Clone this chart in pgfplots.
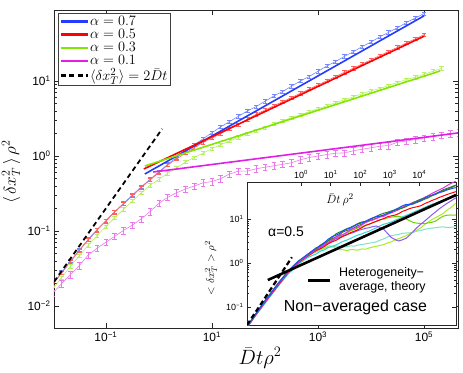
\documentclass[border=0pt]{standalone}
\usepackage{fontspec}
\setmainfont{Liberation Sans}
\usepackage{pgfplots}
\pgfplotsset{compat=1.18}
\usepackage{pgfplotstable}

\definecolor{lineB}{RGB}{35,60,255}
\definecolor{lineR}{RGB}{255,0,0}
\definecolor{lineG}{RGB}{130,230,0}
\definecolor{lineM}{RGB}{225,30,230}
\definecolor{dataB}{RGB}{115,135,255}
\definecolor{dataR}{RGB}{255,95,95}
\definecolor{dataG}{RGB}{180,240,95}
\definecolor{dataM}{RGB}{235,120,235}
% inset colours
\definecolor{insA}{RGB}{30,80,255}
\definecolor{insB}{RGB}{230,50,230}
\definecolor{insC}{RGB}{40,130,40}
\definecolor{insD}{RGB}{90,110,50}
\definecolor{insE}{RGB}{140,90,240}
\definecolor{insF}{RGB}{255,0,0}
\definecolor{insG}{RGB}{170,235,40}
\definecolor{insH}{RGB}{110,210,0}
\definecolor{insI}{RGB}{130,225,200}
\definecolor{insJ}{RGB}{50,210,210}

% main figure: x, alpha=0.7, 0.5, 0.3, 0.1
\pgfplotstableread{
x b r g m
0.01 0.0200 0.0195 0.0170 0.0148
0.01468 0.0282 0.0275 0.0240 0.0200
0.02154 0.0398 0.0389 0.0339 0.0263
0.03162 0.0562 0.0550 0.0468 0.0347
0.04642 0.0776 0.0759 0.0646 0.0479
0.06813 0.1047 0.1023 0.0871 0.0589
0.1 0.138 0.135 0.115 0.0708
0.1468 0.182 0.178 0.151 0.0851
0.2154 0.234 0.229 0.195 0.102
0.3162 0.302 0.295 0.251 0.120
0.4642 0.389 0.380 0.324 0.145
0.6813 0.490 0.479 0.407 0.182
1 0.617 0.603 0.490 0.234
1.468 0.776 0.759 0.589 0.282
2.154 0.955 0.912 0.692 0.324
3.162 1.175 1.096 0.832 0.363
4.642 1.413 1.288 0.955 0.398
6.813 1.698 1.514 1.096 0.440
10 2.042 1.738 1.259 0.457
14.68 2.455 1.995 1.413 0.500
21.54 2.884 2.291 1.585 0.575
31.62 3.388 2.630 1.778 0.630
46.42 3.981 3.090 1.995 0.630
68.13 4.571 3.606 2.188 0.676
100 5.370 4.102 2.399 0.708
146.8 6.310 4.667 2.692 0.741
215.4 7.244 5.309 2.951 0.776
316.2 8.511 6.026 3.236 0.813
464.2 10.0 6.855 3.548 0.891
681.3 11.48 7.798 3.890 0.955
1000 13.49 8.872 4.266 1.000
1468 15.85 10.09 4.677 1.047
2154 18.20 11.48 5.129 1.090
3162 21.38 13.06 5.623 1.100
4642 24.55 14.83 6.166 1.175
6813 28.84 16.87 6.761 1.230
10000 33.11 19.19 7.413 1.288
14680 38.90 21.83 7.943 1.349
21540 44.67 24.83 8.710 1.380
31620 51.29 28.18 9.550 1.530
46420 60.26 32.14 10.47 1.585
68130 69.18 36.48 11.22 1.660
100000 79.43 41.50 12.30 1.738
146800 nan nan 13.49 1.820
215400 nan nan 14.79 1.905
316200 nan nan nan 1.995
464200 nan nan nan 2.042
}\maindata

% inset: single realisations, alpha=0.5
\pgfplotstableread{
x c1 c2 c3 c4 c5 c6 c7 c8 c9 c10
0.0148 0.0355 0.0350 0.0360 0.0355 0.0350 0.0345 0.0340 0.0355 0.0345 0.0340
0.0282 0.0670 0.0650 0.0680 0.0660 0.0655 0.0640 0.0630 0.0665 0.0640 0.0625
0.0603 0.138 0.132 0.140 0.136 0.133 0.128 0.126 0.134 0.125 0.122
0.166 0.340 0.325 0.345 0.335 0.330 0.310 0.315 0.330 0.300 0.295
0.363 0.650 0.620 0.660 0.640 0.630 0.600 0.600 0.635 0.580 0.560
0.794 1.08 1.03 1.10 1.06 1.05 1.00 0.98 1.05 0.96 0.92
1.585 1.55 1.45 1.50 1.47 1.46 1.40 1.38 1.48 1.36 1.30
2.239 1.82 1.70 1.83 1.78 1.66 1.62 1.66 1.70 1.60 1.45
3.162 2.188 1.995 2.089 2.042 1.905 1.905 1.820 1.995 1.778 1.585
4.467 2.45 2.36 2.55 2.30 2.25 2.10 2.10 2.35 1.98 1.85
6.31 2.951 2.630 2.884 2.754 2.512 2.399 2.188 2.630 2.138 1.995
8.414 3.50 2.95 3.25 3.20 2.80 2.75 2.45 2.90 2.30 2.25
11.22 3.981 3.311 3.802 3.548 3.162 3.020 2.399 3.311 2.291 2.399
14.96 4.25 3.85 4.55 3.90 3.55 3.25 2.15 3.70 2.42 2.55
19.95 4.677 4.169 5.012 4.365 3.802 3.631 1.995 3.981 2.399 2.818
26.6 5.40 4.45 5.45 5.10 4.15 4.05 2.00 4.45 2.30 3.10
35.48 5.888 5.012 6.026 5.495 4.467 4.365 1.905 4.786 2.344 3.311
47.3 6.20 5.70 6.45 5.75 4.70 4.90 2.02 5.40 2.45 3.60
63.1 6.918 6.166 7.079 6.310 5.012 5.248 1.995 5.754 2.399 3.981
84.1 7.70 6.55 7.90 7.10 5.45 5.70 1.95 6.30 2.55 4.30
112.2 8.128 7.244 8.511 7.586 5.754 6.310 2.089 6.607 2.630 4.571
149.6 8.80 8.20 8.80 8.60 6.10 7.10 2.05 7.20 2.70 4.95
199.5 9.772 8.913 9.333 9.120 6.310 7.586 2.188 7.586 2.818 5.248
266 10.60 9.40 10.50 9.70 6.70 8.20 2.30 8.30 2.90 5.80
354.8 11.22 10.23 11.48 10.47 6.918 8.913 2.399 8.710 3.020 6.310
473 11.60 11.10 12.60 11.40 6.40 9.60 2.50 9.50 3.30 7.00
631 12.30 11.48 13.49 12.02 5.754 10.23 2.630 10.00 3.548 7.586
841 13.40 12.70 14.20 13.40 4.70 11.20 2.85 10.60 3.90 8.00
1122 14.13 13.80 15.14 14.79 3.802 11.75 3.020 10.96 4.169 8.511
1496 16.20 14.80 15.70 16.20 3.40 12.20 3.30 11.30 4.30 9.30
1995 17.78 16.22 16.60 17.38 3.162 13.18 3.548 11.48 4.467 10.00
2660 19.80 18.50 17.60 18.10 3.35 14.80 3.85 10.90 4.70 11.10
3548 21.38 20.42 19.05 19.50 3.631 15.85 4.169 10.00 4.786 12.02
4732 21.00 22.00 21.40 21.20 4.30 17.20 4.60 9.10 4.85 13.00
6310 21.88 23.99 23.44 22.39 5.248 18.20 5.012 8.318 5.012 14.13
8414 24.50 25.60 25.80 23.70 6.40 18.90 5.60 8.00 5.30 15.40
11220 26.30 27.54 28.18 25.70 7.586 19.95 6.310 7.943 5.495 16.60
14960 30.20 30.80 29.20 28.00 8.90 22.20 7.40 7.80 5.80 18.30
19950 33.11 33.88 30.90 30.20 10.47 23.99 8.511 8.128 6.026 19.95
26600 34.50 38.00 33.60 34.40 12.40 26.30 9.70 8.40 6.20 21.40
35480 36.31 41.69 36.31 38.02 14.45 28.18 10.72 8.913 6.310 22.91
47320 39.60 45.80 41.20 40.40 17.00 30.80 11.90 10.30 6.50 24.80
63100 41.69 50.12 45.71 43.65 19.50 33.11 13.18 11.48 6.607 26.30
84140 45.20 56.50 49.20 47.00 22.30 35.60 15.60 12.10 6.40 28.10
112200 47.86 63.10 52.48 50.12 25.12 38.02 17.78 12.30 6.457 29.51
141700 50.10 68.00 56.00 54.10 27.80 40.00 20.20 12.20 6.55 31.40
173800 51.29 72.44 58.88 57.54 30.20 41.69 22.91 12.30 6.607 33.11
}\insetdata

\pgfplotsset{
  errdata/.style 2 args={#1, line width=0.6bp, forget plot,
    error bars/.cd, y dir=both, y fixed relative=#2,
    error bar style={#1, line width=0.6bp},
    error mark=|,
    error mark options={#1, mark size=2.3bp, line width=0.6bp}},
}

\begin{document}
\begin{tikzpicture}[x=1bp,y=1bp]
\path[use as bounding box] (0,0) rectangle (463,372);

\begin{axis}[
  at={(54bp,44bp)}, anchor=south west,
  scale only axis, width=404bp, height=318bp,
  xmode=log, ymode=log,
  xmin=0.0105, xmax=4.37e5, ymin=0.00509, ymax=88.5,
  axis line style={black!85, line width=0.8bp},
  every tick/.style={black!85, line width=0.6bp},
  major tick length=5bp, minor tick length=2.7bp,
  xtick={0.1,10,1000,100000},
  xticklabels={10\textsuperscript{−1},10\textsuperscript{1},10\textsuperscript{3},10\textsuperscript{5}},
  xminorticks=false,
  ytick={0.01,0.1,1,10},
  yticklabels={10\textsuperscript{−2},10\textsuperscript{−1},10\textsuperscript{0},10\textsuperscript{1}},
  tick label style={font=\fontsize{12}{12}\selectfont},
  legend cell align=left,
  legend style={at={(0.01,0.99)}, anchor=north west,
    font=\fontsize{15.5}{15.5}\selectfont, draw=black!75,
    fill=white, inner sep=1.5bp, nodes={inner sep=1.2pt}},
  legend image code/.code={\draw[#1] (0bp,0bp) -- (27bp,0bp);},
]
\addplot[errdata={dataB}{0.05}] table[x=x,y=b]{\maindata};
\addplot[errdata={dataR}{0.05}] table[x=x,y=r]{\maindata};
\addplot[errdata={dataG}{0.05}] table[x=x,y=g]{\maindata};
\addplot[errdata={dataM}{0.10}] table[x=x,y=m]{\maindata};

\addplot[lineB, line width=1.6bp, forget plot] coordinates {(0.541,0.575) (100000,74)};
\addplot[lineR, line width=1.6bp, forget plot] coordinates {(0.518,0.671) (100000,39.6)};
\addplot[lineG, line width=1.6bp, forget plot] coordinates {(0.541,0.736) (200000,13.6)};
\addplot[lineM, line width=1.6bp, forget plot] coordinates {(0.78,0.612) (437000,2.03)};
\addplot[black, line width=1.8bp, dash pattern=on 5bp off 3.5bp, forget plot] coordinates {(0.0105,0.021) (1.15,2.3)};

\addlegendimage{lineB, line width=2.2bp}
\addlegendentry{$\alpha = 0.7$}
\addlegendimage{lineR, line width=2.2bp}
\addlegendentry{$\alpha = 0.5$}
\addlegendimage{lineG, line width=2.2bp}
\addlegendentry{$\alpha = 0.3$}
\addlegendimage{lineM, line width=2.2bp}
\addlegendentry{$\alpha = 0.1$}
\addlegendimage{black, line width=2.2bp, dash pattern=on 5bp off 3.5bp}
\addlegendentry{$\langle \delta x_T^2\rangle = 2\bar{D}t$}
\end{axis}

\begin{axis}[
  at={(247bp,47bp)}, anchor=south west,
  scale only axis, width=209bp, height=143bp,
  xmode=log, ymode=log,
  xmin=0.0148, xmax=1.74e5, ymin=0.039, ymax=69,
  axis background/.style={fill=white},
  axis line style={black!85, line width=0.8bp},
  every tick/.style={black!85, line width=0.6bp},
  major tick length=4bp, minor tick length=2.2bp,
  xtick pos=right, xticklabel pos=right,
  xtick={1,10,100,1000,10000},
  xticklabels={10\textsuperscript{0},10\textsuperscript{1},10\textsuperscript{2},10\textsuperscript{3},10\textsuperscript{4}},
  xminorticks=false,
  ytick={0.1,1,10},
  yticklabels={10\textsuperscript{−1},10\textsuperscript{0},10\textsuperscript{1}},
  tick label style={font=\fontsize{9}{9}\selectfont},
  every axis plot/.append style={line width=1bp},
]
\addplot[insI] table[x=x,y=c9]{\insetdata};
\addplot[insG] table[x=x,y=c7]{\insetdata};
\addplot[insH] table[x=x,y=c8]{\insetdata};
\addplot[insJ] table[x=x,y=c10]{\insetdata};
\addplot[insE] table[x=x,y=c5]{\insetdata};
\addplot[insF] table[x=x,y=c6]{\insetdata};
\addplot[insD] table[x=x,y=c4]{\insetdata};
\addplot[insB] table[x=x,y=c2]{\insetdata};
\addplot[insC] table[x=x,y=c3]{\insetdata};
\addplot[insA] table[x=x,y=c1]{\insetdata};
\addplot[black, line width=2.6bp] coordinates {(0.075,0.41) (174000,35)};
\addplot[black, line width=2.2bp, dash pattern=on 5bp off 3bp] coordinates {(0.0148,0.039) (0.49,1.35)};
\end{axis}

% labels of the main axis
\node[rotate=90, inner sep=0pt, font=\fontsize{17}{17}\selectfont] at (11,200) {$\langle\,\delta x_T^2\,\rangle\,\rho^2$};
\node[inner sep=0pt, font=\fontsize{20}{20}\selectfont] at (260,14) {$\bar{D}t\rho^2$};
% inset annotations
\node[rotate=90, inner sep=0pt, font=\fontsize{11}{11}\selectfont] at (211,104) {$<\delta x_T^2>\rho^2$};
\node[inner sep=0pt, font=\fontsize{13}{13}\selectfont] at (340,172) {$\bar{D}t\,\rho^2$};
\node[font=\fontsize{14}{14}\selectfont] at (286,140) {α=0.5};
\draw[line width=3bp] (308,92) -- (330,92);
\node[anchor=west, align=left, inner sep=0pt, font=\fontsize{12.5}{14}\selectfont] at (339,92) {Heterogeneity−\\average, theory};
\node[font=\fontsize{16}{16}\selectfont] at (355.5,64.5) {Non−averaged case};
\end{tikzpicture}
\end{document}
